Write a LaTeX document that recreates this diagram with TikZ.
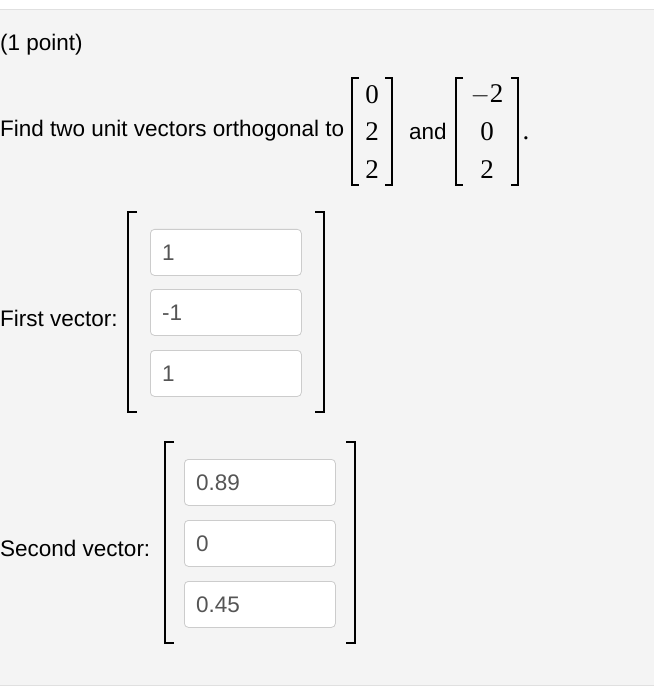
\documentclass[tikz,border=0pt]{standalone}
\usepackage{fontspec}
\setmainfont{Liberation Sans}
\newfontfamily\mathserif{Liberation Serif}
\usetikzlibrary{positioning}

\definecolor{pagegray}{HTML}{F4F4F4}
\definecolor{boxline}{HTML}{CCCCCC}
\definecolor{entrytext}{HTML}{555555}

\tikzset{
  label text/.style={anchor=west, inner sep=0pt, font=\fontsize{22.5}{25}\selectfont},
  entry/.style={inner sep=0pt, font=\mathserif\fontsize{27}{30}\selectfont},
  answer box/.style={draw=boxline, fill=white, rounded corners=4pt, line width=0.8pt,
    minimum width=151pt, minimum height=46pt, anchor=north west},
  answer text/.style={anchor=west, inner sep=0pt, text=entrytext, font=\fontsize{22.5}{25}\selectfont},
  bracket/.style={line width=1.8pt}
}

\begin{document}
\begin{tikzpicture}[x=1pt, y=-1pt]
\useasboundingbox (0,0) rectangle (654,692);
\fill[white] (0,0) rectangle (654,692);
\fill[pagegray] (0,9) rectangle (654,685);
\draw[boxline!60] (0,9) -- (654,9);
\draw[boxline!60] (0,685) -- (654,685);

% heading
\node[label text] (pts) at (0,45) {(1 point)};
\node[label text] (task) at (0,131) {Find two unit vectors orthogonal to};

% first given vector
\node[entry] (a1) at (372,95) {0};
\node[entry] (a2) at (372,132) {2};
\node[entry] (a3) at (372,170) {2};
\draw[bracket] (359,78) -- (352,78) -- (352,185) -- (359,185);
\draw[bracket] (385,78) -- (392,78) -- (392,185) -- (385,185);
\node[label text] (and) at (409,131) {and};

% second given vector
\node[entry] (b1) at (487,95) {$-$2};
\node[entry] (b2) at (487,132) {0};
\node[entry] (b3) at (487,170) {2};
\draw[bracket] (463,78) -- (456,78) -- (456,185) -- (463,185);
\draw[bracket] (511,78) -- (518,78) -- (518,185) -- (511,185);
\node[entry, anchor=base] (dot) at (526,140) {.};

% first answer
\node[label text] (first) at (0,318) {First vector:};
\draw[bracket] (137,212) -- (128,212) -- (128,412) -- (137,412);
\draw[bracket] (315,212) -- (324,212) -- (324,412) -- (315,412);
\foreach \y/\v [count=\i] in {229/1, 289/-1, 350/1} {
  \node[answer box] (u\i) at (150,\y) {};
  \node[answer text] (ut\i) at ([xshift=12pt]u\i.west) {\v};
}

% second answer
\node[label text] (second) at (0,548) {Second vector:};
\draw[bracket] (174,442) -- (165,442) -- (165,643) -- (174,643);
\draw[bracket] (346,442) -- (355,442) -- (355,643) -- (346,643);
\foreach \y/\v [count=\i] in {459/0.89, 520/0, 581/0.45} {
  \node[answer box] (w\i) at (184,\y) {};
  \node[answer text] (wt\i) at ([xshift=12pt]w\i.west) {\v};
}
\end{tikzpicture}
\end{document}
